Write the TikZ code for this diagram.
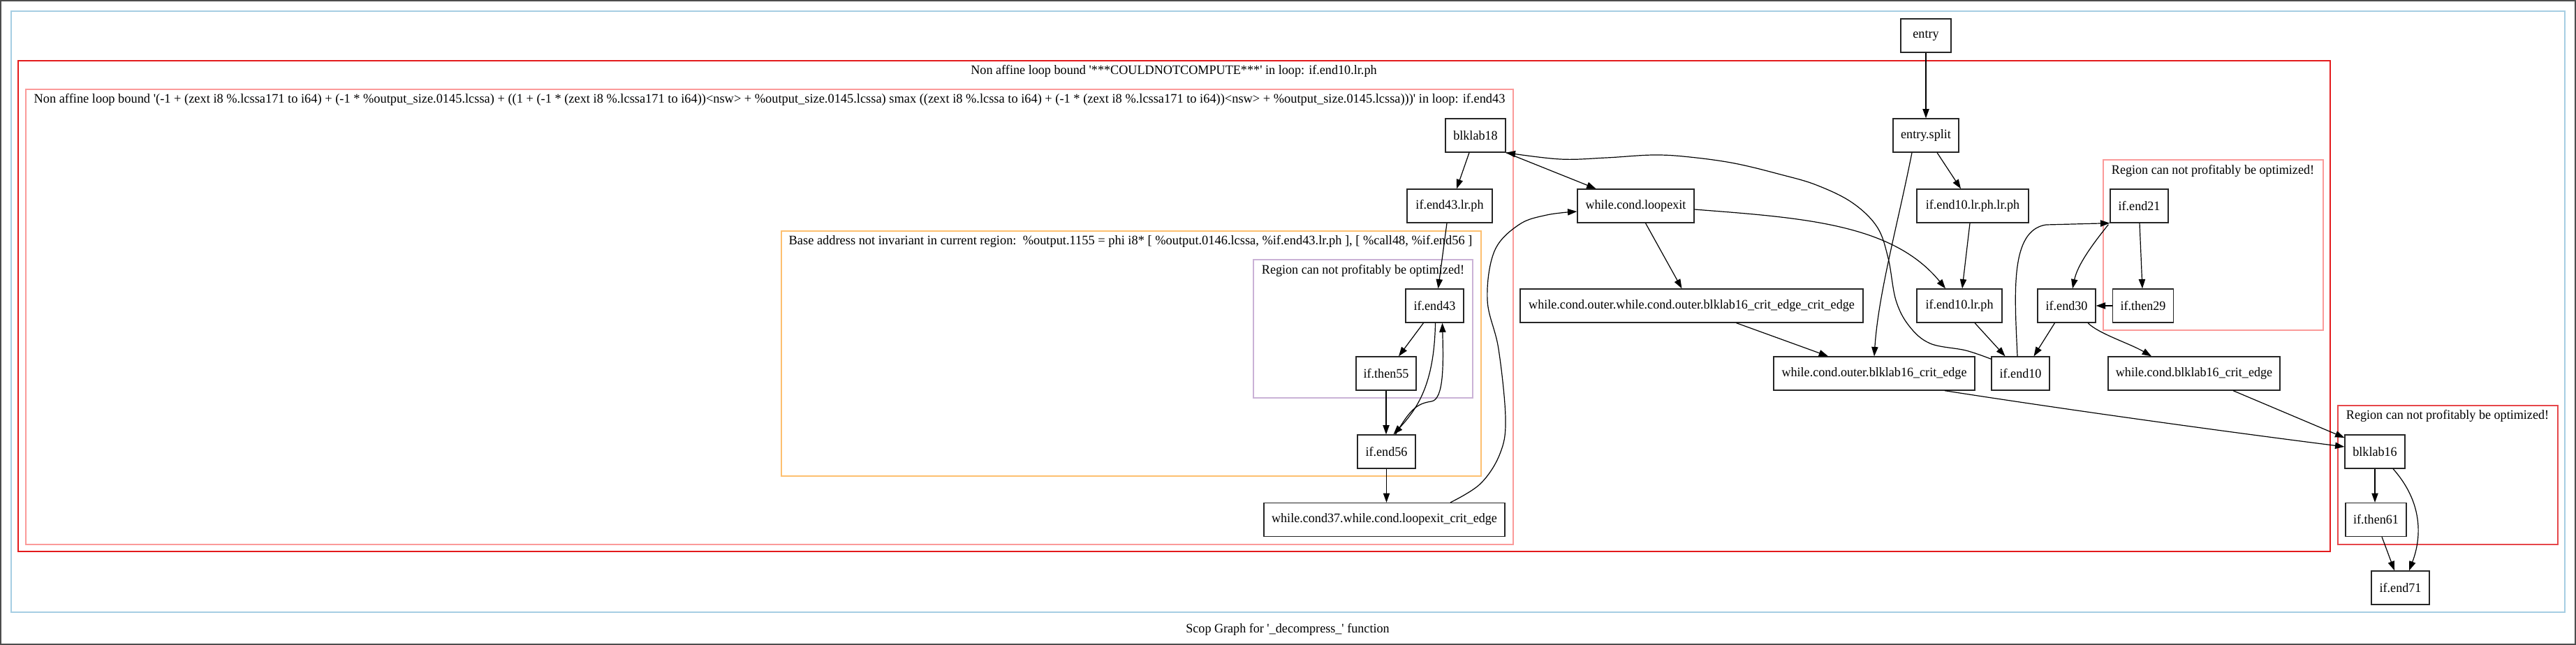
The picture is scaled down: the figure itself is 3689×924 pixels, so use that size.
\documentclass[tikz,border=0pt]{standalone}
\usepackage{fontspec}
\usepackage{graphicx}
\setmainfont{Liberation Serif}[FakeStretch=0.97]
\usetikzlibrary{arrows.meta,calc}
\definecolor{cblue}{HTML}{A6CEE3}
\definecolor{cred}{HTML}{E31A1C}
\definecolor{credb}{HTML}{E6474A}
\definecolor{cpink}{HTML}{FB9A99}
\definecolor{corange}{HTML}{FDBF6F}
\definecolor{cpurple}{HTML}{CAB2D6}
\definecolor{framegray}{HTML}{4D4D4D}
\newcommand{\sq}{\textquotesingle}
\newcommand{\fitw}[2]{\resizebox{#1}{\height}{#2}}
\begin{document}
\begin{tikzpicture}[x=0.75pt,y=-0.75pt,
  font=\fontsize{14}{17}\selectfont,
  bb/.style={draw=black!85, line width=1pt, rectangle, minimum height=36pt, inner sep=0pt},
  ed/.style={draw=black, line width=0.9pt, -{Triangle[length=10pt,width=7pt]}},
  clu/.style={line width=1pt},
  lab/.style={inner sep=0pt}]
\useasboundingbox (0,0) rectangle (3689,924);
\draw[framegray, line width=1.2pt] (0.8,0.8) rectangle (3688.2,923.2);

% clusters
\draw[cblue, clu] (16,16) rectangle (3673,877);
\draw[cred, clu] (26,87) rectangle (3337,790);
\node[lab] (labA) at (1681,102) {\fitw{436pt}{Non affine loop bound \sq***COULDNOTCOMPUTE***\sq{} in loop: if.end10.lr.ph}};
\draw[cpink, clu] (37,128) rectangle (2167,780);
\node[lab] (labB) at (1102,143) {\fitw{1580pt}{Non affine loop bound \sq(-1 + (zext i8 \%.lcssa171 to i64) + (-1 * \%output\_size.0145.lcssa) + ((1 + (-1 * (zext i8 \%.lcssa171 to i64))<nsw> + \%output\_size.0145.lcssa) smax ((zext i8 \%.lcssa to i64) + (-1 * (zext i8 \%.lcssa171 to i64))<nsw> + \%output\_size.0145.lcssa)))\sq{} in loop: if.end43}};
\draw[corange, clu] (1119,331) rectangle (2121,682);
\node[lab] (labC) at (1619,346) {\fitw{734pt}{Base address not invariant in current region:\ \ \%output.1155 = phi i8* [ \%output.0146.lcssa, \%if.end43.lr.ph ], [ \%call48, \%if.end56 ]}};
\draw[cpurple, clu] (1795,372) rectangle (2109,570);
\node[lab] (labD) at (1952,388) {Region can not profitably be optimized!};
\draw[cpink, clu] (3012,229) rectangle (3327,473);
\node[lab] (labE) at (3169,245) {Region can not profitably be optimized!};
\draw[credb, clu] (3348,581) rectangle (3663,780);
\node[lab] (labF) at (3505,596) {Region can not profitably be optimized!};
\node[lab] (caption) at (1844,902) {Scop Graph for \sq\_decompress\_\sq{} function};

% nodes
\node[bb, minimum width=72*0.75pt] (entry) at (2758,51) {entry};
\node[bb, minimum width=94*0.75pt] (entrysplit) at (2758,194) {entry.split};
\node[bb, minimum width=86*0.75pt] (blklabEighteen) at (2113,194) {blklab18};
\node[bb, minimum width=122*0.75pt] (ifendFTlrph) at (2076,295) {if.end43.lr.ph};
\node[bb, minimum width=167*0.75pt] (wcloopexit) at (2342.5,295) {while.cond.loopexit};
\node[bb, minimum width=83*0.75pt] (ifendFT) at (2054.5,438) {if.end43};
\node[bb, minimum width=86*0.75pt] (ifthenFF) at (1985,535) {if.then55};
\node[bb, minimum width=83*0.75pt] (ifendFS) at (1985.5,647) {if.end56};
\node[bb, minimum width=345*0.75pt] (wcTS) at (1982.5,744.5) {while.cond37.while.cond.loopexit\_crit\_edge};
\node[bb, minimum width=160*0.75pt] (ifendTlrphlrph) at (2825,295) {if.end10.lr.ph.lr.ph};
\node[bb, minimum width=83*0.75pt] (ifendTO) at (3063.5,295) {if.end21};
\node[bb, minimum width=491*0.75pt] (wcouterouter) at (2422.5,438) {while.cond.outer.while.cond.outer.blklab16\_crit\_edge\_crit\_edge};
\node[bb, minimum width=122*0.75pt] (ifendTlrph) at (2806,438) {if.end10.lr.ph};
\node[bb, minimum width=83*0.75pt] (ifendThirty) at (2959.5,438) {if.end30};
\node[bb, minimum width=87*0.75pt] (ifthenTN) at (3069,438) {if.then29};
\node[bb, minimum width=288*0.75pt] (wcouterblk) at (2684,535) {while.cond.outer.blklab16\_crit\_edge};
\node[bb, minimum width=83*0.75pt] (ifendTen) at (2893.5,535) {if.end10};
\node[bb, minimum width=246*0.75pt] (wcblk) at (3142,535) {while.cond.blklab16\_crit\_edge};
\node[bb, minimum width=86*0.75pt] (blklabSixteen) at (3401,647) {blklab16};
\node[bb, minimum width=87*0.75pt] (ifthenSO) at (3402.5,744.5) {if.then61};
\node[bb, minimum width=83*0.75pt] (ifendSO) at (3437.5,842) {if.end71};

% edges
\draw[ed] (entry.south) -- (entrysplit.north);
\draw[ed] ($(entrysplit.south)+(16,0)$) -- ($(ifendTlrphlrph.north)+(-17,0)$);
\draw[ed] ($(entrysplit.south)+(-20,0)$) .. controls (2718,320) and (2690,420) .. (wcouterblk.north);
\draw[ed] ($(ifendTlrphlrph.south)+(-4,0)$) -- ($(ifendTlrph.north)+(4,0)$);
\draw[ed] ($(wcloopexit.east)+(0,5)$) .. controls (2580,312) and (2710,320) .. ($(ifendTlrph.north)+(-20,0)$);
\draw[ed] ($(wcloopexit.south)+(14,0)$) -- ($(wcouterouter.north)+(-14,0)$);
\draw[ed] (blklabEighteen.south east) -- ($(wcloopexit.north)+(-57,0)$);
\coordinate (eTenStart) at ($(ifendTen.north west)+(0,4)$);
\draw[ed] plot[smooth, tension=0.6] coordinates {(eTenStart) (2815,502) (2764,492) (2734,467) (2715,430) (2704,370) (2688,325) (2652,290) (2601,265) (2550,250) (2484,234) (2420,225) (2368,222) (2300,226) (2234,228) (blklabEighteen.south east)};
\draw[ed] ($(blklabEighteen.south)+(-9,0)$) -- ($(ifendFTlrph.north)+(10,0)$);
\draw[ed] ($(ifendFTlrph.south)+(-4,0)$) -- ($(ifendFT.north)+(5,0)$);
\draw[ed] ($(ifendFT.south)+(-16,0)$) -- ($(ifthenFF.north)+(18,0)$);
\draw[ed] (ifthenFF.south) -- (ifendFS.north -| ifthenFF.south);
\draw[ed] ($(ifendFT.south)+(1,0)$) .. controls (2054,550) and (2030,585) .. ($(ifendFS.north)+(10,0)$);
\draw[ed] ($(ifendFS.north)+(13,0)$) .. controls (2020,585) and (2030,578) .. (2050,575) .. controls (2068,572) and (2067,520) .. ($(ifendFT.south)+(11,0)$);
\draw[ed] (ifendFS.south) -- (wcTS.north -| ifendFS.south);
\coordinate (eTSStart) at ($(wcTS.north)+(94.5,0)$);
\coordinate (eTSEnd) at ($(wcloopexit.west)+(0,8)$);
\draw[ed] plot[smooth, tension=0.6] coordinates {(eTSStart) (2120,693) (2148,650) (2156,600) (2146,500) (2130,430) (2140,360) (2175,322) (2215,308) (eTSEnd)};
\draw[ed] ($(wcouterouter.south)+(64,0)$) -- ($(wcouterblk.north)+(-66,0)$);
\draw[ed] ($(ifendTlrph.south)+(22,0)$) -- ($(ifendTen.north)+(-22,0)$);
\draw[ed] ($(ifendThirty.south)+(-17,0)$) -- ($(ifendTen.north)+(19,0)$);
\draw[ed] ($(ifendTen.north)+(-4.5,0)$) .. controls (2885,420) and (2878,330) .. (2930,322) -- (ifendTO.south west);
\draw[ed] ($(ifendTO.south west)+(-2,2)$) .. controls (2995,352) and (2975,380) .. ($(ifendThirty.north)+(8.5,0)$);
\draw[ed] ($(ifendTO.south)+(0.5,0)$) -- ($(ifthenTN.north)+(-1,0)$);
\draw[ed] (ifthenTN.west) -- (ifendThirty.east);
\draw[ed] ($(ifendThirty.south)+(30.5,0)$) .. controls (3005,478) and (3050,492) .. ($(wcblk.north)+(-61,0)$);
\draw[ed] ($(wcouterblk.south)+(101,0)$) .. controls (2980,590) and (3200,620) .. ($(blklabSixteen.west)+(0,-7)$);
\draw[ed] ($(wcblk.south)+(56,0)$) -- ($(blklabSixteen.west)+(0,-20)$);
\draw[ed] (blklabSixteen.south) -- (ifthenSO.north -| blklabSixteen.south);
\draw[ed] ($(blklabSixteen.south)+(26,0)$) .. controls (3470,720) and (3468,770) .. ($(ifendSO.north)+(12.5,0)$);
\draw[ed] ($(ifthenSO.south)+(8.5,0)$) -- ($(ifendSO.north)+(-8.5,0)$);
\end{tikzpicture}
\end{document}
